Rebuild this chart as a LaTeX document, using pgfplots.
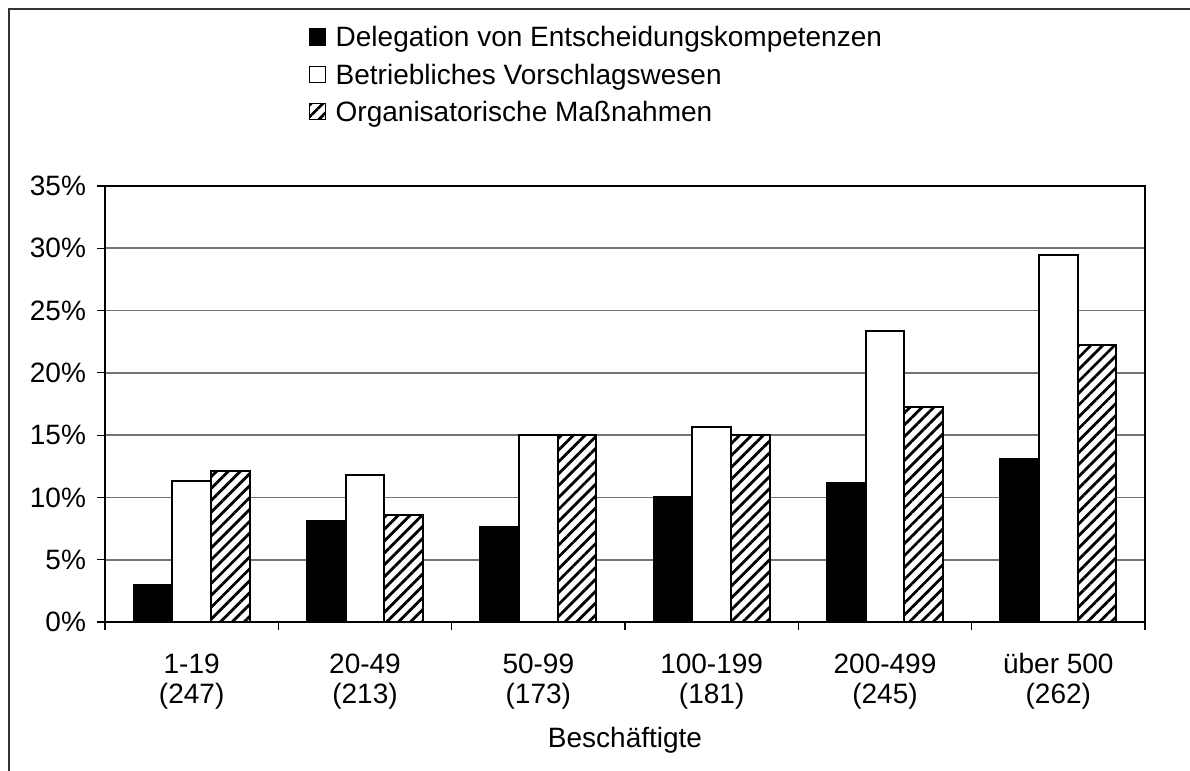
\documentclass[border=0pt]{standalone}
\usepackage{fontspec}
\setmainfont{Liberation Sans}
\usepackage{pgfplots}
\pgfplotsset{compat=1.18}
\usetikzlibrary{patterns.meta}

\pgfplotstableread{
x d v o
0 3.0 11.3 12.1
1 8.1 11.8 8.6
2 7.65 15.0 15.0
3 10.0 15.65 15.0
4 11.15 23.35 17.25
5 13.1 29.5 22.2
}\datatable

\begin{document}
\begin{tikzpicture}[x=1pt,y=1pt]
\useasboundingbox (0,0) rectangle (595,385.5);
\draw[line width=1pt, black!80] (4.25,-10) -- (4.25,380.75) -- (610,380.75);
\begin{axis}[
  at={(52.5pt,74.5pt)}, anchor=south west,
  scale only axis, width=520pt, height=218pt,
  font=\fontsize{14}{15}\selectfont,
  ybar=0pt, bar width=19.35pt,
  xmin=-0.5, xmax=5.5, ymin=0, ymax=35,
  xtick={0,...,5},
  xticklabels={{\strut 1-19\\\strut (247)},{\strut 20-49\\\strut (213)},{\strut 50-99\\\strut (173)},{\strut 100-199\\\strut (181)},{\strut 200-499\\\strut (245)},{\strut über 500\\\strut (262)}},
  xticklabel style={align=center, font=\fontsize{14}{15}\selectfont, anchor=north, yshift=-7.5pt},
  major x tick style={draw=none},
  minor xtick={-0.5,0.5,...,5.5},
  ytick={0,5,...,35},
  yticklabels={0\%,5\%,10\%,15\%,20\%,25\%,30\%,35\%},
  yticklabel style={font=\fontsize{14}{15}\selectfont, xshift=-2pt},
  tick align=outside, major tick length=4pt, minor tick length=4pt,
  tick style={black, line width=0.6pt},
  xtick pos=bottom, ytick pos=left,
  ymajorgrids, grid style={black!55, line width=0.8pt},
  axis line style={black, line width=1pt},
  xlabel={Beschäftigte},
  xlabel style={at={(axis description cs:0.5,-0.272)}, anchor=center, font=\fontsize{14}{15}\selectfont},
  legend style={at={(0.19,1.385)}, anchor=north west, draw=none, fill=none,
    cells={anchor=west}, row sep=3pt, font=\fontsize{14}{15}\selectfont},
  legend image code/.code={\draw[#1, line width=0.7pt] (0pt,-3.5pt) rectangle (8pt,4.5pt);\pgfpathmoveto{\pgfqpoint{11pt}{0pt}}\pgfusepath{use as bounding box}},
]
\addplot[draw=black, line width=1pt, fill=black] table[x=x, y=d] {\datatable};
\addplot[draw=black, line width=1pt, fill=white] table[x=x, y=v] {\datatable};
\addplot[draw=black, line width=1pt, fill=white, postaction={pattern={Lines[angle=45,distance=4.2pt,line width=1.4pt]}, pattern color=black}] table[x=x, y=o] {\datatable};
\legend{Delegation von Entscheidungskompetenzen, Betriebliches Vorschlagswesen, Organisatorische Maßnahmen}
\end{axis}
\end{tikzpicture}
\end{document}
